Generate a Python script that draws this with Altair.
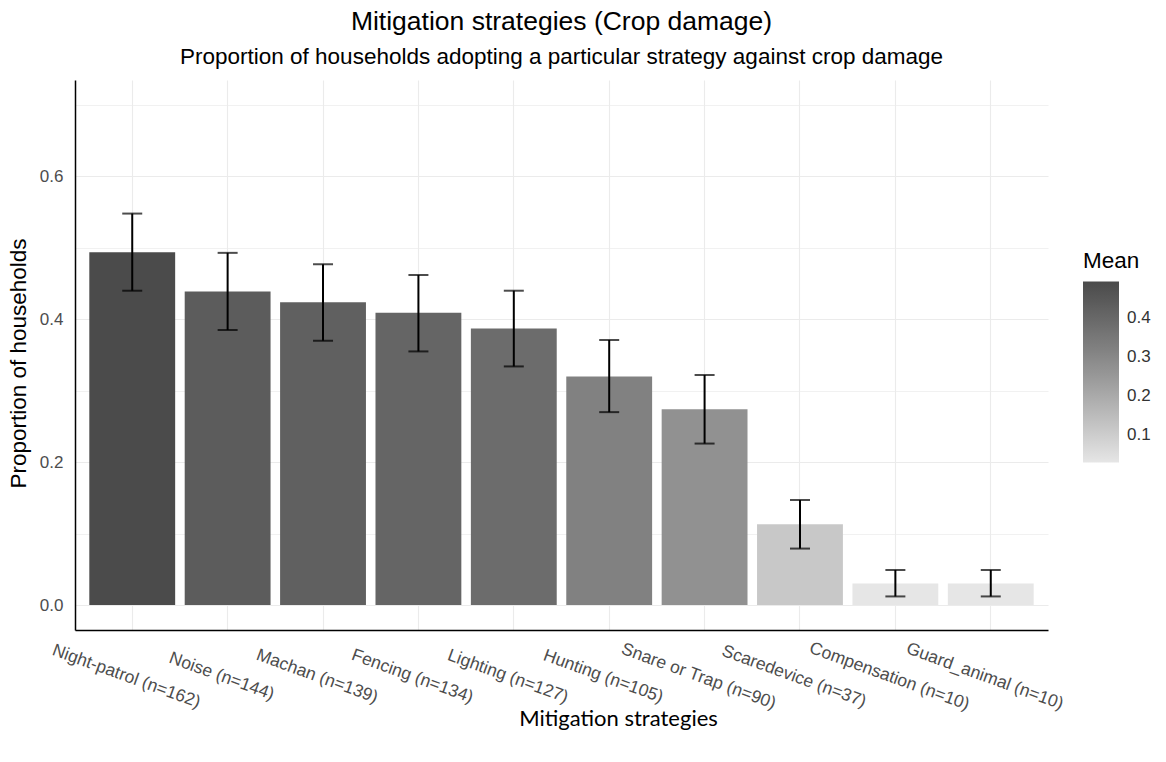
import altair as alt
import pandas as pd

# Strategy labels (with number of adopting households) in plotting order
strategies = [
    "Night-patrol (n=162)",
    "Noise (n=144)",
    "Machan (n=139)",
    "Fencing (n=134)",
    "Lighting (n=127)",
    "Hunting (n=105)",
    "Snare or Trap (n=90)",
    "Scaredevice (n=37)",
    "Compensation (n=10)",
    "Guard_animal (n=10)",
]
# Proportion of households adopting each strategy
mean = [0.494, 0.439, 0.424, 0.409, 0.387, 0.320, 0.274, 0.113, 0.030, 0.030]
# 95% confidence limits
lower = [0.440, 0.385, 0.370, 0.355, 0.334, 0.270, 0.226, 0.079, 0.012, 0.012]
upper = [0.548, 0.493, 0.477, 0.462, 0.440, 0.371, 0.322, 0.147, 0.049, 0.049]

y_ticks = [0.0, 0.1, 0.2, 0.3, 0.4, 0.5, 0.6, 0.7]
legend_ticks = [0.1, 0.2, 0.3, 0.4]

df = pd.DataFrame({"strategy": strategies, "mean": mean, "lower": lower, "upper": upper})

FONT = "Liberation Sans"
GRID = "#ebebeb"

x_axis = alt.Axis(
    title="Mitigation strategies",
    titleFont="Lato",
    titleFontSize=22,
    titleFontWeight="normal",
    titleColor="black",
    titleX=543,
    titleY=88,
    titleAlign="center",
    titleBaseline="middle",
    labelAngle=20,
    labelAlign="center",
    labelBaseline="middle",
    labelPadding=46,
    labelOffset=-6,
    labelFont=FONT,
    labelFontSize=17.5,
    labelColor="#4d4d4d",
    labelOverlap=False,
    labelLimit=0,
    ticks=False,
    tickSize=0,
    domain=True,
    domainColor="black",
    domainWidth=1.5,
    grid=True,
    gridColor=GRID,
    gridWidth=1.1,
    bandPosition=0.5,
)

y_axis = alt.Axis(
    title="Proportion of households",
    titleFont=FONT,
    titleFontSize=22.5,
    titleFontWeight="normal",
    titleColor="black",
    titleX=-57,
    titleY=283,
    titleAlign="center",
    titleBaseline="middle",
    values=y_ticks,
    labelExpr="round(datum.value * 10) % 2 == 0 ? format(datum.value, '.1f') : ''",
    labelFont=FONT,
    labelFontSize=17,
    labelColor="#4d4d4d",
    labelPadding=12,
    ticks=False,
    tickSize=0,
    domain=True,
    domainColor="black",
    domainWidth=1.5,
    grid=True,
    gridColor=GRID,
    gridWidth={"condition": {"test": "round(datum.value * 10) % 2 == 1", "value": 0.7}, "value": 1.1},
)

x_scale = alt.Scale(paddingInner=0.1, paddingOuter=0.15)
y_scale = alt.Scale(domain=[-0.035, 0.735], nice=False, zero=False)

x_enc = alt.X("strategy:N", sort=strategies, scale=x_scale, axis=x_axis)

bars = alt.Chart(df).mark_bar().encode(
    x=x_enc,
    y=alt.Y("mean:Q", scale=y_scale, axis=y_axis),
    y2=alt.datum(0),
    fill=alt.Fill(
        "mean:Q",
        scale=alt.Scale(range=["#e6e6e6", "#4b4b4b"], interpolate="lab", zero=False),
        legend=alt.Legend(
            title="Mean",
            orient="none",
            legendX=1008,
            legendY=170,
            direction="vertical",
            gradientLength=181,
            gradientThickness=36,
            gradientStrokeWidth=0,
            values=legend_ticks,
            format=".1f",
            titleFont=FONT,
            titleFontSize=22.5,
            titleFontWeight="normal",
            titleColor="black",
            titlePadding=9,
            labelFont=FONT,
            labelFontSize=17,
            labelColor="#333333",
            labelOffset=8,
        ),
    ),
)

whiskers = alt.Chart(df).mark_rule(color="black", strokeWidth=2).encode(
    x=x_enc,
    y=alt.Y("lower:Q", scale=y_scale, axis=y_axis),
    y2="upper:Q",
)

caps = (
    alt.Chart(df)
    .transform_fold(["lower", "upper"], as_=["limit", "value"])
    .mark_tick(color="black", size=20, thickness=2, orient="horizontal")
    .encode(
        x=x_enc,
        y=alt.Y("value:Q", scale=y_scale, axis=y_axis),
    )
)

chart = (
    alt.layer(bars, whiskers, caps)
    .properties(
        width=973,
        height=550,
        autosize=alt.AutoSizeParams(type="none"),
        padding={"left": 75, "top": 80, "right": 118, "bottom": 132},
        background="white",
        title=alt.TitleParams(
            text="Mitigation strategies (Crop damage)",
            subtitle="Proportion of households adopting a particular strategy against crop damage",
            anchor="middle",
            font=FONT,
            fontSize=26.5,
            fontWeight="normal",
            color="black",
            subtitleFont=FONT,
            subtitleFontSize=22.5,
            subtitleColor="black",
            subtitlePadding=10,
            offset=12,
        ),
    )
    .configure_view(stroke=None)
)

chart.save("out.html", embed_options={"renderer": "svg", "actions": False})
